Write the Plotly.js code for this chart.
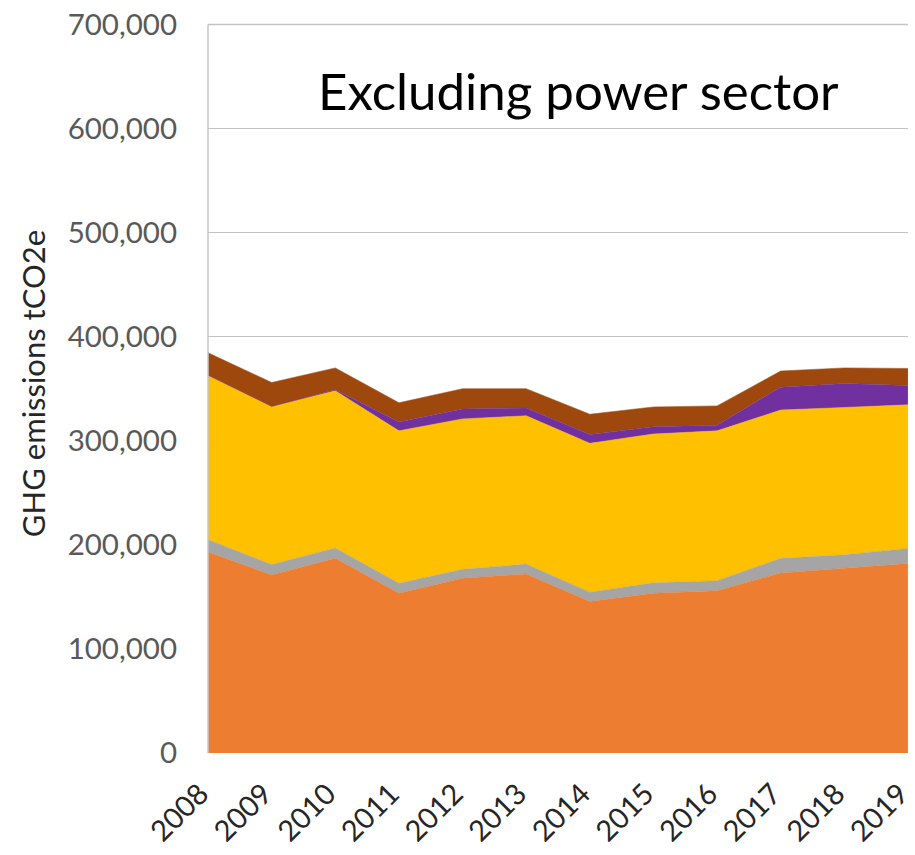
<!DOCTYPE html>
<html>
<head>
<meta charset="utf-8">
<script src="https://cdn.plot.ly/plotly-3.0.1.min.js"></script>
<style>
html,body{margin:0;padding:0;background:#fff;}
#chart{width:915px;height:855px;}
</style>
</head>
<body>
<div id="chart"></div>
<script>
const years = [2008, 2009, 2010, 2011, 2012, 2013, 2014, 2015, 2016, 2017, 2018, 2019];
const seriesOrange = [193000, 171000, 187000, 153500, 168000, 172000, 145500, 153500, 156000, 173000, 177500, 182000];
const seriesGray   = [12000, 10000, 10000, 9500, 8500, 9500, 9000, 10000, 9500, 14000, 13000, 14500];
const seriesYellow = [158000, 152000, 151000, 146500, 144500, 142500, 143000, 143000, 144000, 142500, 141500, 138000];
const seriesPurple = [0, 0, 1000, 8500, 9500, 7500, 8500, 7000, 5500, 22000, 23000, 18500];
const seriesBrown  = [21500, 23000, 21000, 18500, 19500, 18500, 19500, 19000, 18500, 15500, 15000, 16500];
const yTicks = [0, 100000, 200000, 300000, 400000, 500000, 600000, 700000];
const yTickLabels = ['0', '100,000', '200,000', '300,000', '400,000', '500,000', '600,000', '700,000'];
const yMax = 700000;
const chartTitle = 'Excluding power sector';
const yTitle = 'GHG emissions tCO2e';

const colors = ['#ED7D31', '#A5A5A5', '#FFC000', '#7030A0', '#9E480E'];
const series = [seriesOrange, seriesGray, seriesYellow, seriesPurple, seriesBrown];
const names = ['Series 1', 'Series 2', 'Series 3', 'Series 4', 'Series 5'];

const traces = series.map((s, i) => ({
  type: 'scatter',
  mode: 'lines',
  x: years,
  y: s,
  name: names[i],
  stackgroup: 'one',
  fillcolor: colors[i],
  line: {color: colors[i], width: 0.5},
  hoverinfo: 'x+y'
}));

const font = 'Lato, "Open Sans", sans-serif';
const gridColor = '#c4c4c4';
const layout = {
  width: 915,
  height: 855,
  margin: {l: 208, r: 7, t: 14, b: 102},
  paper_bgcolor: '#ffffff',
  plot_bgcolor: '#ffffff',
  showlegend: false,
  font: {family: font, color: '#595959'},
  xaxis: {
    type: 'linear',
    range: [2007.999, 2019.001],
    tickvals: years,
    ticktext: years.map(String),
    tickangle: -45,
    tickfont: {size: 29, color: '#262626', family: font},
    ticklabelstandoff: 17,
    ticklabelshift: -8,
    ticklabeloverflow: 'allow',
    automargin: false,
    showgrid: false,
    zeroline: false,
    showline: false,
    ticks: ''
  },
  yaxis: {
    range: [0, 710000],
    tickvals: yTicks,
    ticktext: yTickLabels,
    tickfont: {size: 29.5, color: '#595959', family: font},
    showgrid: true,
    gridcolor: gridColor,
    gridwidth: 1.5,
    zeroline: false,
    showline: false,
    ticks: '',
    ticklabelstandoff: 30,
    automargin: false,
    title: {text: yTitle, font: {size: 31, color: '#262626', family: font}, standoff: 12}
  },
  shapes: [
    {
      type: 'line', xref: 'paper', yref: 'y',
      x0: 0, x1: 1, y0: yMax, y1: yMax,
      line: {color: gridColor, width: 1.5},
      layer: 'above'
    },
    {
      type: 'line', xref: 'paper', yref: 'y',
      x0: 0, x1: 0, y0: 0, y1: yMax,
      line: {color: gridColor, width: 1.5},
      layer: 'above'
    }
  ],
  annotations: [{
    text: chartTitle,
    xref: 'paper', yref: 'paper',
    x: 0.529, y: 0.896,
    xanchor: 'center', yanchor: 'middle',
    showarrow: false,
    font: {size: 51, color: '#000000', family: font}
  }]
};

Plotly.newPlot('chart', traces, layout, {displayModeBar: false, staticPlot: true});
</script>
</body>
</html>
